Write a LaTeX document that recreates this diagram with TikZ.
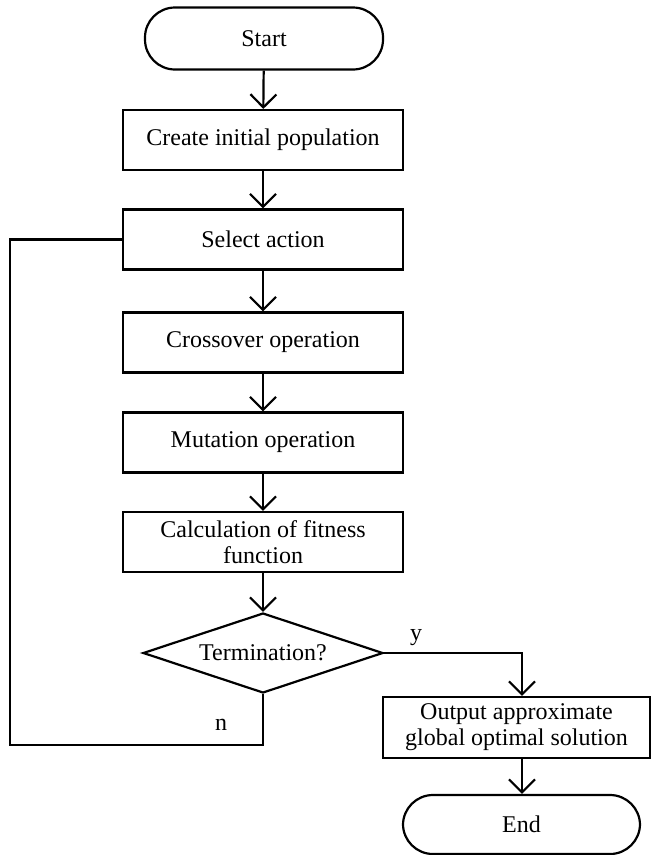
\documentclass[tikz,border=0pt]{standalone}
\usepackage{fontspec}
\setmainfont{Liberation Serif}
\usetikzlibrary{arrows.meta,shapes.geometric}
\begin{document}
\begin{tikzpicture}[x=1pt,y=-1pt,
  line width=2.2pt,
  font=\fontsize{24}{26}\selectfont,
  box/.style={draw, rectangle, minimum width=280pt, minimum height=60pt, inner sep=0pt, align=center},
  term/.style={draw, rectangle, rounded corners=30pt, minimum width=238pt, minimum height=62pt, inner sep=0pt},
  decision/.style={draw, diamond, aspect=3, minimum width=240pt, minimum height=80pt, inner sep=0pt},
  arr/.style={-{Straight Barb[length=13pt,width=26pt]}},
  lbl/.style={inner sep=0pt}]
\useasboundingbox (0,0) rectangle (652,855);
\node[term] (start) at (264,38.5) {Start};
\node[box] (create) at (263,140) {Create initial population};
\node[box] (sel) at (263,239.5) {Select action};
\node[box] (cross) at (263,342.5) {Crossover operation};
\node[box] (mut) at (263,442.5) {Mutation operation};
\node[box] (calc) at (263,542) {Calculation of fitness\\function};
\node[decision] (dia) at (263,653) {Termination?};
\node[box, minimum width=267pt, minimum height=61pt] (out) at (516.5,727.5) {Output approximate\\global optimal solution};
\node[term, minimum width=237pt, minimum height=59pt] (end) at (521.5,824.5) {End};
\node[lbl] (ylab) at (416,638) {y};
\node[lbl] (nlab) at (221,725) {n};
\coordinate (yc) at (522,653);
\coordinate (fb) at (10,745);
\draw[arr] (start) -- (create);
\draw[arr] (create) -- (sel);
\draw[arr] (sel) -- (cross);
\draw[arr] (cross) -- (mut);
\draw[arr] (mut) -- (calc);
\draw[arr] (calc) -- (dia);
\draw[arr] (dia.east) -- (yc) -- (yc |- out.north);
\draw[arr] (yc |- out.south) -- (yc |- end.north);
\draw (dia.south) |- (fb) -- (fb |- sel.west) -- (sel.west);
\end{tikzpicture}
\end{document}
